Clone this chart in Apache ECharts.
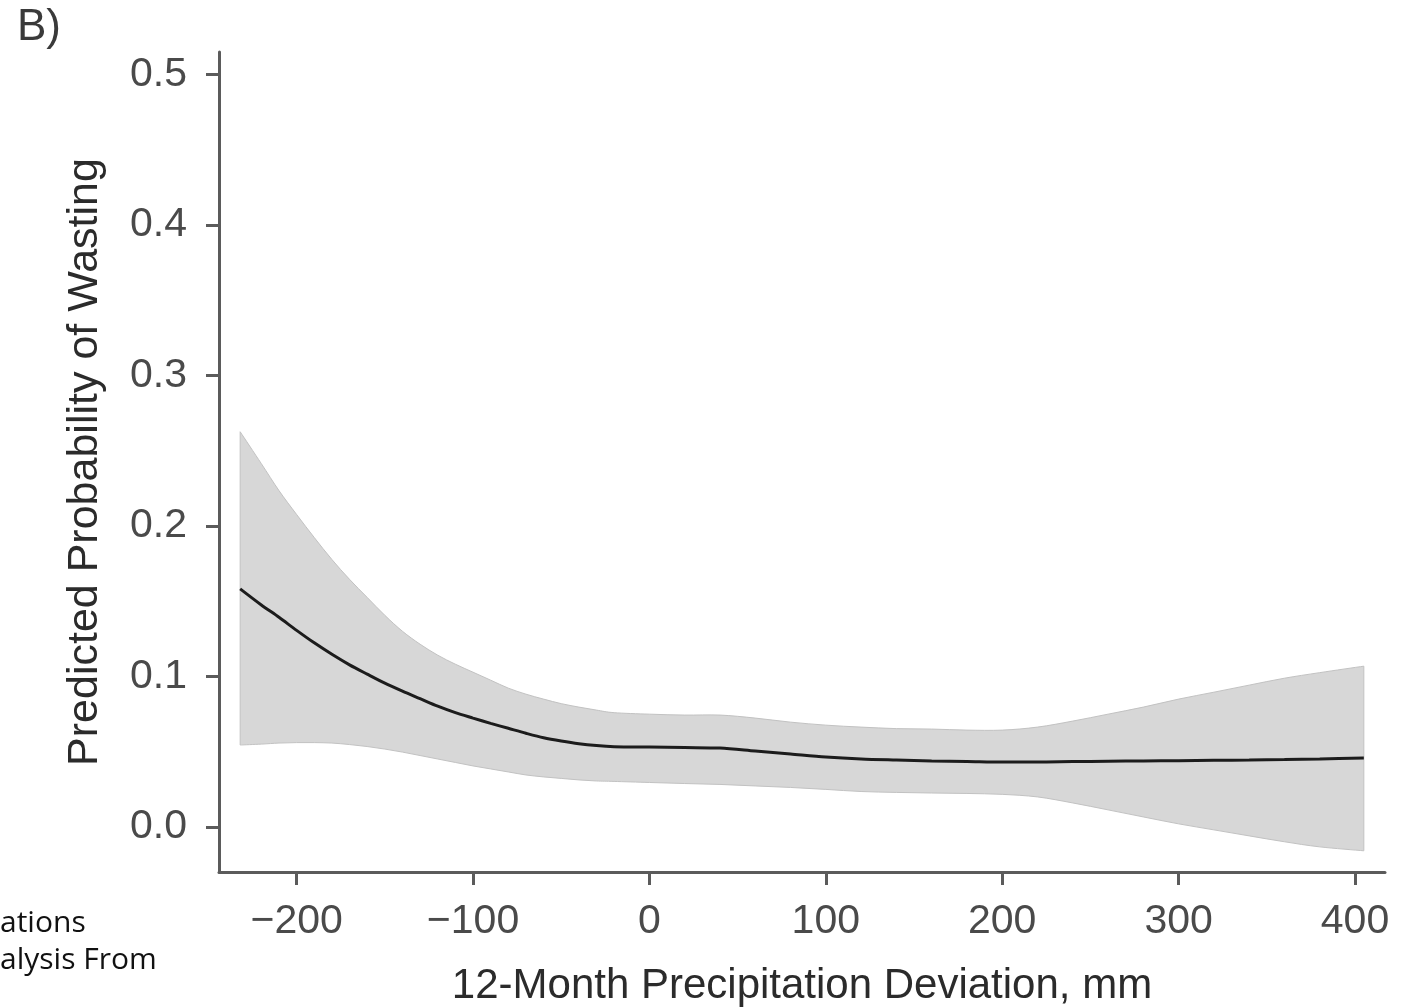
<!DOCTYPE html>
<html>
<head>
<meta charset="utf-8">
<title>Predicted Probability of Wasting</title>
<script src="https://cdn.jsdelivr.net/npm/echarts@6/dist/echarts.min.js"></script>
<style>
  html, body { margin: 0; padding: 0; background: #ffffff; }
  #chart { width: 1411px; height: 1008px; }
</style>
</head>
<body>
<div id="chart"></div>
<script>
// 12-month precipitation deviation (mm) at which the fitted curve is evaluated
const deviation = [-232, -220, -210, -200, -190, -180, -170, -160, -150, -140, -130, -120, -110, -100,
  -90, -80, -70, -60, -50, -40, -30, -20, 0, 20, 40, 60, 80, 100, 120, 140, 160, 180, 200,
  220, 240, 260, 280, 300, 320, 340, 360, 380, 405];

// Predicted probability of wasting
const predicted = [0.1582, 0.1475, 0.1393, 0.1306, 0.1223, 0.1147, 0.1077, 0.1015, 0.0955, 0.0902,
  0.0852, 0.0802, 0.0759, 0.0723, 0.0688, 0.0655, 0.0622, 0.0592, 0.0570, 0.0552, 0.0540, 0.0533,
  0.0530, 0.0527, 0.0524, 0.0504, 0.0484, 0.0464, 0.0451, 0.0444, 0.0438, 0.0435, 0.0431, 0.0431,
  0.0434, 0.0436, 0.0438, 0.0440, 0.0442, 0.0444, 0.0447, 0.0451, 0.0458];

// Upper and lower bounds of the confidence band
const upperCI = [0.2626, 0.2414, 0.2235, 0.2076, 0.1923, 0.1777, 0.1645, 0.1525, 0.1406, 0.1300,
  0.1214, 0.1141, 0.1081, 0.1028, 0.0975, 0.0922, 0.0882, 0.0849, 0.0819, 0.0796, 0.0776, 0.0759,
  0.0749, 0.0743, 0.0743, 0.0723, 0.0696, 0.0676, 0.0663, 0.0653, 0.0650, 0.0643, 0.0643, 0.0663,
  0.0703, 0.0749, 0.0796, 0.0849, 0.0895, 0.0942, 0.0988, 0.1025, 0.1068];

const lowerCI = [0.0544, 0.0550, 0.0557, 0.0560, 0.0560, 0.0557, 0.0547, 0.0534, 0.0517, 0.0497,
  0.0474, 0.0451, 0.0428, 0.0405, 0.0385, 0.0365, 0.0345, 0.0332, 0.0322, 0.0312, 0.0305, 0.0302,
  0.0295, 0.0288, 0.0282, 0.0272, 0.0262, 0.0249, 0.0235, 0.0229, 0.0225, 0.0222, 0.0216, 0.0199,
  0.0159, 0.0113, 0.0066, 0.0020, -0.0020, -0.0060, -0.0099, -0.0133, -0.0159];

// Tick labels
const xTicks = [-200, -100, 0, 100, 200, 300, 400];
const yTicks = [0.0, 0.1, 0.2, 0.3, 0.4, 0.5];

const FONT = '"Liberation Sans", Arial, Helvetica, sans-serif';
const AXIS_GREY = '#5b5b5b';
const LABEL_GREY = '#4a4a4a';
const BAND_FILL = '#d7d7d7';
const BAND_EDGE = '#c2c2c2';

const chart = echarts.init(document.getElementById('chart'), null, { renderer: 'canvas' });

const lineData = deviation.map((x, i) => [x, predicted[i]]);

// Catmull-Rom curve through pixel points, written as cubic bezier path commands
function curveThrough(pts) {
  let d = '';
  for (let i = 0; i < pts.length - 1; i++) {
    const p0 = pts[Math.max(i - 1, 0)];
    const p1 = pts[i];
    const p2 = pts[i + 1];
    const p3 = pts[Math.min(i + 2, pts.length - 1)];
    const c1x = p1[0] + (p2[0] - p0[0]) / 6;
    const c1y = p1[1] + (p2[1] - p0[1]) / 6;
    const c2x = p2[0] - (p3[0] - p1[0]) / 6;
    const c2y = p2[1] - (p3[1] - p1[1]) / 6;
    d += ' C' + c1x + ',' + c1y + ' ' + c2x + ',' + c2y + ' ' + p2[0] + ',' + p2[1];
  }
  return d;
}

const option = {
  animation: false,
  backgroundColor: '#ffffff',
  grid: { left: 219, right: 26, top: 52, bottom: 136, containLabel: false, outerBoundsMode: 'none' },
  xAxis: {
    type: 'value',
    min: -244,
    max: 417,
    name: '12-Month Precipitation Deviation, mm',
    nameLocation: 'middle',
    nameGap: 93,
    nameTextStyle: { fontFamily: FONT, fontSize: 42, color: '#2b2b2b' },
    axisLine: { show: true, onZero: false, lineStyle: { color: AXIS_GREY, width: 3 } },
    axisTick: { show: true, length: 13, customValues: xTicks, lineStyle: { color: AXIS_GREY, width: 3 } },
    axisLabel: {
      customValues: xTicks,
      margin: 29,
      fontFamily: FONT,
      fontSize: 41,
      color: LABEL_GREY,
      formatter: v => String(v).replace('-', '\u2212')
    },
    splitLine: { show: false }
  },
  yAxis: {
    type: 'value',
    min: -0.03,
    max: 0.515,
    name: 'Predicted Probability of Wasting',
    nameLocation: 'middle',
    nameGap: 112,
    nameTextStyle: { fontFamily: FONT, fontSize: 43, color: '#2b2b2b' },
    axisLine: { show: true, onZero: false, lineStyle: { color: AXIS_GREY, width: 3 } },
    axisTick: { show: true, length: 13, customValues: yTicks, lineStyle: { color: AXIS_GREY, width: 3 } },
    axisLabel: {
      customValues: yTicks,
      margin: 32,
      fontFamily: FONT,
      fontSize: 41,
      color: LABEL_GREY,
      formatter: v => Number(v).toFixed(1)
    },
    splitLine: { show: false }
  },
  graphic: [
    {
      type: 'text', left: 17, top: 6,
      style: { text: 'B)', font: '44px ' + FONT, fill: '#3a3a3a' }
    },
    {
      type: 'text', left: 0, top: 908,
      style: { text: 'ations', font: '30px "Open Sans", "Noto Sans", sans-serif', fill: '#111111' }
    },
    {
      type: 'text', left: 0, top: 945,
      style: { text: 'alysis From', font: '30px "Open Sans", "Noto Sans", sans-serif', fill: '#111111' }
    }
  ],
  series: [
    {
      // confidence band: smooth upper edge, straight right side, smooth lower edge back
      type: 'custom',
      silent: true,
      z: 1,
      data: [[deviation[0], lowerCI[0]]],
      encode: { x: 0, y: 1 },
      renderItem: function (params, api) {
        const up = deviation.map((x, i) => api.coord([x, upperCI[i]]));
        const lo = deviation.map((x, i) => api.coord([x, lowerCI[i]])).reverse();
        const d = 'M' + up[0][0] + ',' + up[0][1] + curveThrough(up) +
          ' L' + lo[0][0] + ',' + lo[0][1] + curveThrough(lo) + ' Z';
        return {
          type: 'path',
          shape: { pathData: d },
          style: { fill: BAND_FILL, stroke: BAND_EDGE, lineWidth: 1 }
        };
      }
    },
    {
      name: 'predicted',
      type: 'line',
      z: 3,
      data: lineData,
      smooth: 0.3,
      symbol: 'none',
      lineStyle: { color: '#1c1c1c', width: 3 }
    }
  ]
};

chart.setOption(option);
</script>
</body>
</html>
